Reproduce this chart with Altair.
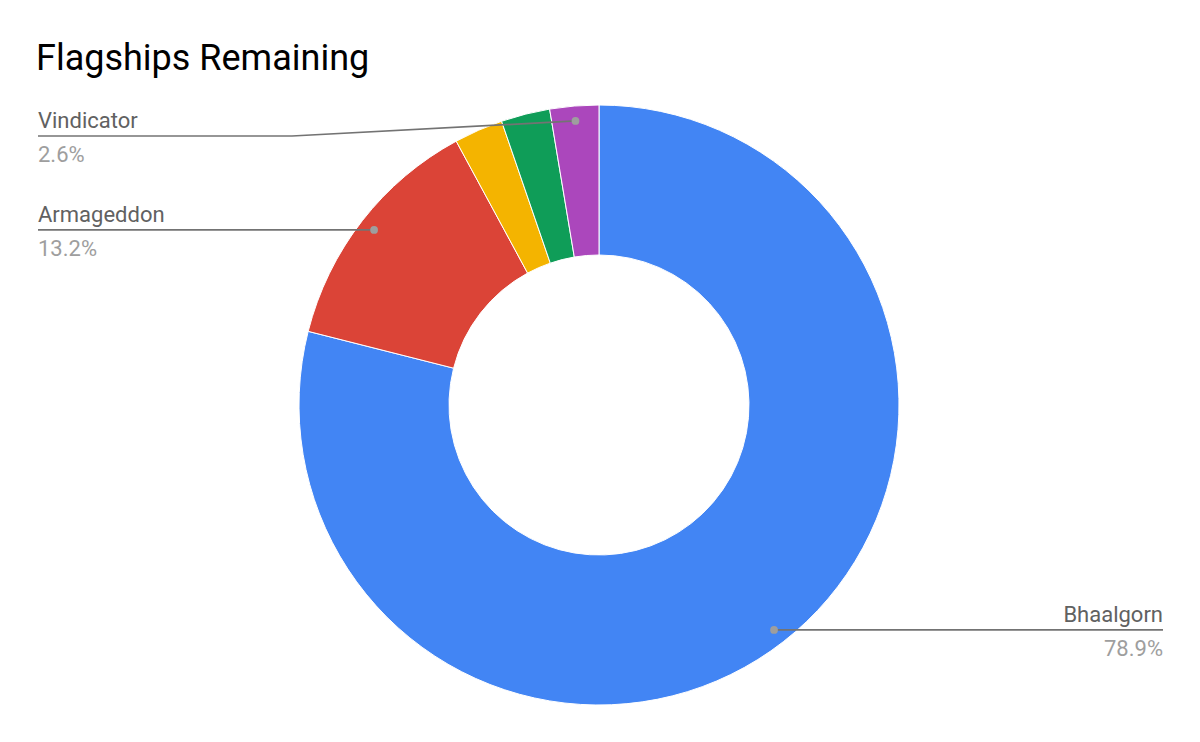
import altair as alt
import pandas as pd

# ---- data ----
ships = ["Bhaalgorn", "Armageddon", "Apocalypse", "Abaddon", "Vindicator"]
counts = [30, 5, 1, 1, 1]
colors = ["#4285F4", "#DB4437", "#F4B400", "#0F9D58", "#AB47BC"]
show_label = [True, True, False, False, True]

df = pd.DataFrame({
    "ship": ships,
    "count": counts,
    "order": list(range(len(ships))),
    "show": show_label,
})

# layout constants (chart coordinates)
CX, CY = 591, 397
R_OUT, R_IN, R_DOT = 300, 150, 285
LEFT_X, RIGHT_X = 30, 1155
MIN_LINE_Y = 128
ELBOW_LEFT = 284

base = (
    alt.Chart(df)
    .transform_joinaggregate(total="sum(count)")
    .transform_window(cum="sum(count)", sort=[alt.SortField("order")], frame=[None, 0])
    .transform_calculate(
        mid="2*PI*(datum.cum - datum.count/2)/datum.total",
        pct="format(datum.count/datum.total, '.1%')",
    )
    .transform_calculate(
        dotX=f"{CX} + {R_DOT}*sin(datum.mid)",
        dotY=f"{CY} - {R_DOT}*cos(datum.mid)",
        right="sin(datum.mid) > 0",
    )
    .transform_calculate(
        lineY=f"max(datum.dotY, {MIN_LINE_Y})",
        elbowX=f"datum.right ? datum.dotX : min(datum.dotX, {ELBOW_LEFT})",
        endX=f"datum.right ? {RIGHT_X} : {LEFT_X}",
    )
)

arcs = (
    alt.Chart(df)
    .mark_arc(outerRadius=R_OUT, innerRadius=R_IN, stroke="white", strokeWidth=1)
    .encode(
        theta=alt.Theta("count:Q", stack=True),
        color=alt.Color("ship:N", scale=alt.Scale(domain=ships, range=colors), legend=None),
        order=alt.Order("order:Q"),
        x=alt.value(CX),
        y=alt.value(CY),
    )
)

lab = base.transform_filter("datum.show")

rule1 = lab.mark_rule(color="#737373", strokeWidth=1.7).encode(
    x=alt.X("dotX:Q", scale=None), y=alt.Y("dotY:Q", scale=None),
    x2="elbowX:Q", y2="lineY:Q",
)
rule2 = lab.mark_rule(color="#737373", strokeWidth=1.7).encode(
    x=alt.X("elbowX:Q", scale=None), y=alt.Y("lineY:Q", scale=None),
    x2="endX:Q", y2="lineY:Q",
)
dots = lab.mark_circle(size=60, color="#9e9e9e", opacity=1).encode(
    x=alt.X("dotX:Q", scale=None), y=alt.Y("dotY:Q", scale=None),
)

def texts(side_filter, align):
    sub = lab.transform_filter(side_filter)
    name = sub.mark_text(align=align, baseline="alphabetic", fontSize=22, font="Roboto",
                         color="#616161", dy=-8).encode(
        x=alt.X("endX:Q", scale=None), y=alt.Y("lineY:Q", scale=None), text="ship:N")
    pct = sub.mark_text(align=align, baseline="alphabetic", fontSize=22, font="Roboto",
                        color="#9e9e9e", dy=26).encode(
        x=alt.X("endX:Q", scale=None), y=alt.Y("lineY:Q", scale=None), text="pct:N")
    return name + pct

chart = (
    alt.layer(arcs, rule1, rule2, dots, texts("!datum.right", "left"), texts("datum.right", "right"))
    .properties(
        width=1184,
        height=726,
        autosize=alt.AutoSizeParams(type="none"),
        padding=0,
        title=alt.Title(
            "Flagships Remaining",
            anchor="start",
            frame="group",
            fontSize=36,
            font="Roboto",
            fontWeight="normal",
            color="#000000",
            baseline="alphabetic",
            offset=0,
            dx=28,
            dy=98,
        ),
    )
    .configure_view(stroke=None)
)

chart.save("out.html", embed_options={"renderer": "svg", "actions": False})
